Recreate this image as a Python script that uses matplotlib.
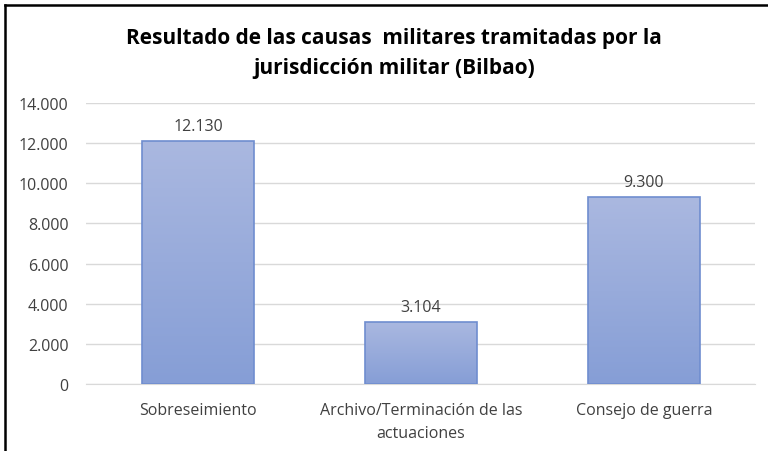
import numpy as np
import matplotlib
matplotlib.use('Agg')
import matplotlib.pyplot as plt
from matplotlib.colors import LinearSegmentedColormap
from matplotlib.ticker import FuncFormatter

categorias = ['Sobreseimiento', 'Archivo/Terminación de las\nactuaciones', 'Consejo de guerra']
valores = [12130, 3104, 9300]
titulo = 'Resultado de las causas  militares tramitadas por la\njurisdicción militar (Bilbao)'

plt.rcParams['font.family'] = ['Open Sans', 'DejaVu Sans']

def miles(v):
    return f'{int(v):,}'.replace(',', '.')

fig = plt.figure(figsize=(7.68, 4.52), dpi=100)
ax = fig.add_axes([0.1126, 0.1482, 0.871, 0.6217])

grad = LinearSegmentedColormap.from_list('g', ['#869ED6', '#AAB8E0'])
x = np.arange(len(valores))
bars = ax.bar(x, valores, width=0.5, color='none', edgecolor='#6F8DCF', linewidth=1.2, zorder=3)
for b in bars:
    x0, y0, w, h = b.get_x(), b.get_y(), b.get_width(), b.get_height()
    im = ax.imshow(np.linspace(0, 1, 100).reshape(-1, 1), cmap=grad, origin='lower',
                   extent=[x0, x0 + w, y0, y0 + h], aspect='auto', zorder=2)
    im.set_clip_path(b)
for xi, v in zip(x, valores):
    ax.text(xi, v + 350, miles(v), ha='center', va='bottom', fontsize=11.5, color='#404040')

ax.set_xlim(-0.5, 2.5)
ax.set_ylim(0, 14000)
ax.set_yticks(range(0, 14001, 2000))
ax.yaxis.set_major_formatter(FuncFormatter(lambda v, _: miles(v)))
ax.set_xticks(x)
ax.set_xticklabels(categorias, fontsize=11.5, color='#404040', linespacing=1.6)
ax.tick_params(axis='y', labelsize=11.5, labelcolor='#404040', length=0, pad=13)
ax.tick_params(axis='x', length=0, pad=13)
ax.grid(axis='y', color='#D9D9D9', linewidth=1, zorder=0)
ax.set_axisbelow(True)
for s in ['top', 'right', 'left']:
    ax.spines[s].set_visible(False)
ax.spines['bottom'].set_color('#D9D9D9')

fig.text(0.513, 0.882, titulo, ha='center', va='center', fontsize=15, fontweight='bold',
         color='black', linespacing=1.55)

# marco
fig.add_artist(plt.Line2D([0.007, 1.0], [0.987, 0.987], color='black', linewidth=1.8, transform=fig.transFigure))
fig.add_artist(plt.Line2D([0.007, 0.007], [0.0, 0.987], color='black', linewidth=1.8, transform=fig.transFigure))

fig.savefig('out.png', dpi=100)
